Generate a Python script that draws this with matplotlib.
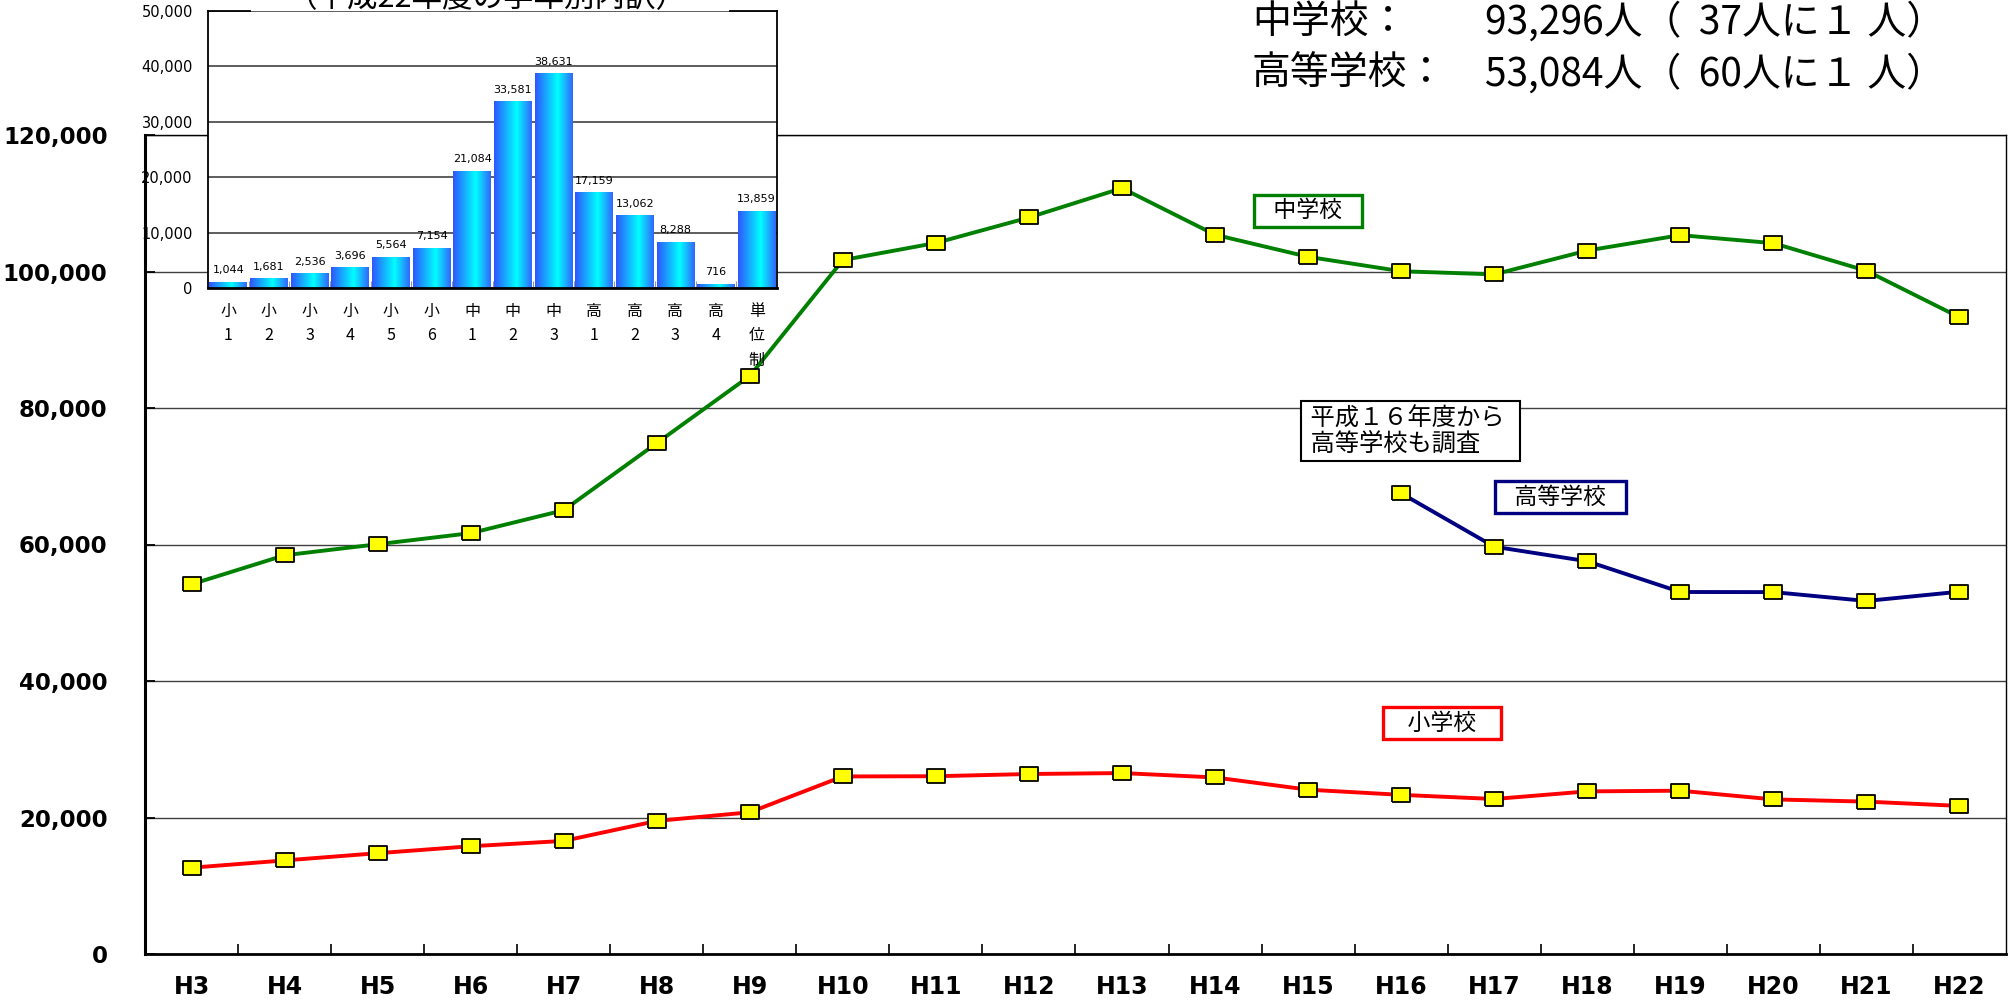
import matplotlib
matplotlib.use('Agg')
import matplotlib.pyplot as plt
import numpy as np
from matplotlib.colors import LinearSegmentedColormap
from matplotlib.lines import Line2D
from matplotlib.ticker import FuncFormatter

# --- data -------------------------------------------------------------------
years = ['H3', 'H4', 'H5', 'H6', 'H7', 'H8', 'H9', 'H10', 'H11', 'H12',
         'H13', 'H14', 'H15', 'H16', 'H17', 'H18', 'H19', 'H20', 'H21', 'H22']
elementary = [12645, 13710, 14769, 15786, 16569, 19498, 20765, 26017, 26047, 26373,
              26511, 25869, 24077, 23318, 22709, 23825, 23927, 22652, 22327, 21700]
junior_high = [54172, 58421, 60039, 61663, 65022, 74853, 84701, 101675, 104180, 107913,
               112211, 105383, 102149, 100040, 99578, 103069, 105328, 104153, 100105, 93296]
high_school = [np.nan] * 13 + [67500, 59680, 57544, 53041, 53024, 51728, 53084]

grade_labels = ['小\n1', '小\n2', '小\n3', '小\n4', '小\n5', '小\n6', '中\n1', '中\n2',
                '中\n3', '高\n1', '高\n2', '高\n3', '高\n4', '単\n位\n制']
grade_counts = [1044, 1681, 2536, 3696, 5564, 7154, 21084, 33581, 38631,
                17159, 13062, 8288, 716, 13859]

CJK = ['Noto Sans CJK JP', 'DejaVu Sans']
NARROW = ['Liberation Sans Narrow', 'DejaVu Sans']
plt.rcParams['font.family'] = ['DejaVu Sans']

fig = plt.figure(figsize=(20.14, 10), dpi=100)

# --- main line chart ----------------------------------------------------------
ax = fig.add_axes([0.072, 0.046, 0.924, 0.819])
x = np.arange(len(years))
rect = [(-1.35, -1), (1.35, -1), (1.35, 1), (-1.35, 1), (-1.35, -1)]
series = [(junior_high, '#008000'), (elementary, '#ff0000'), (high_school, '#000080')]
for vals, color in series:
    ax.plot(x, vals, color=color, lw=2.8, marker=rect, markersize=13.5,
            markerfacecolor='#ffff00', markeredgecolor='black', markeredgewidth=1.3,
            zorder=3)

ax.set_xlim(-0.5, len(years) - 0.5)
ax.set_ylim(0, 120000)
ax.set_yticks(np.arange(0, 120001, 20000))
ax.yaxis.set_major_formatter(FuncFormatter(lambda v, p: f'{int(v):,}'))
ax.set_xticks(x)
ax.set_xticklabels(years)
ax.set_xticks(np.arange(0.5, len(years) - 1, 1), minor=True)
ax.tick_params(axis='x', which='major', length=0, pad=15, labelsize=17)
ax.tick_params(axis='x', which='minor', direction='in', length=7, width=1.2)
ax.tick_params(axis='y', direction='in', length=7, width=1.3, pad=27, labelsize=16.5)
for lab in ax.get_xticklabels() + ax.get_yticklabels():
    lab.set_fontweight('bold')
ax.grid(axis='y', color='#404040', lw=1.0)
ax.set_axisbelow(True)
ax.spines['left'].set_linewidth(2.2)
ax.spines['bottom'].set_linewidth(2.0)
ax.spines['top'].set_linewidth(1.0)
ax.spines['right'].set_linewidth(1.0)

# series labels
ax.text(12.0, 108900, '   中学校   ', family=CJK, fontsize=16.5, ha='center', va='center',
        bbox=dict(boxstyle='square,pad=0.2', fc='white', ec='#008000', lw=2.4), zorder=4)
ax.text(14.71, 66960, '   高等学校   ', family=CJK, fontsize=16.5, ha='center', va='center',
        bbox=dict(boxstyle='square,pad=0.2', fc='white', ec='#000080', lw=2.4), zorder=4)
ax.text(13.44, 33850, '    小学校    ', family=CJK, fontsize=16.5, ha='center', va='center',
        bbox=dict(boxstyle='square,pad=0.2', fc='white', ec='#ff0000', lw=2.4), zorder=4)
ax.text(13.1, 76630, ' 平成１６年度から  \n 高等学校も調査', family=CJK, fontsize=17.5,
        ha='center', va='center', multialignment='left', linespacing=0.95,
        bbox=dict(boxstyle='square,pad=0.18', fc='white', ec='black', lw=1.5), zorder=4)

# --- inset bar chart ------------------------------------------------------------
axi = fig.add_axes([0.1033, 0.712, 0.2825, 0.277], zorder=5)
axi.set_facecolor('white')
cmap = LinearSegmentedColormap.from_list('bar', [(0, '#2f55ff'), (0.6, '#00ffff'), (1, '#3366ff')])
grad = np.linspace(0, 1, 128).reshape(1, -1)
bw = 0.93
for i, v in enumerate(grade_counts):
    axi.imshow(grad, cmap=cmap, extent=[i - bw / 2, i + bw / 2, 0, v],
               aspect='auto', zorder=2, interpolation='bilinear')
    axi.annotate(f'{v:,}', (i, v), xytext=(0, 5), textcoords='offset points',
                 ha='center', va='bottom', fontsize=8, family=NARROW)
axi.set_xlim(-0.5, len(grade_counts) - 0.5)
axi.set_ylim(0, 50000)
axi.set_yticks(np.arange(0, 50001, 10000))
axi.yaxis.set_major_formatter(FuncFormatter(lambda v, p: f'{int(v):,}'))
axi.set_xticks(np.arange(len(grade_counts)))
axi.set_xticklabels(grade_labels, family=CJK, fontsize=11.5, linespacing=1.55, va='top')
axi.set_xticks(np.arange(0.5, len(grade_counts) - 1, 1), minor=True)
axi.tick_params(axis='x', which='major', length=0, pad=11)
axi.tick_params(axis='x', which='minor', direction='in', length=5, color='#808080')
axi.tick_params(axis='y', length=0, pad=11, labelsize=10.5)
for lab in axi.get_yticklabels():
    lab.set_family(NARROW)
axi.grid(axis='y', color='#505050', lw=1.3, zorder=1)
axi.set_axisbelow(True)
axi.spines['top'].set_visible(False)
axi.spines['left'].set_linewidth(1.3)
axi.spines['right'].set_linewidth(1.3)
axi.spines['bottom'].set_linewidth(2.0)
for x0, x1 in [(0, 0.074), (0.917, 1)]:
    axi.add_line(Line2D([x0, x1], [1, 1], transform=axi.transAxes, color='black',
                        lw=1.3, clip_on=False))

# inset title (cut off by the top edge of the picture, as in the source)
fig.text(0.2418, 0.993, '（平成22年度の学年別内訳）', family=CJK, fontsize=22,
         ha='center', va='baseline')

# --- summary at the top right ---------------------------------------------------
fig.text(1252 / 2014, 1 - 22 / 1000, '中学校：', family=CJK, fontsize=28, va='center')
fig.text(1485 / 2014, 1 - 22 / 1000, '93,296人（  37人に１ 人）', family=CJK, fontsize=28, va='center')
fig.text(1252 / 2014, 1 - 74 / 1000, '高等学校：', family=CJK, fontsize=28, va='center')
fig.text(1485 / 2014, 1 - 74 / 1000, '53,084人（  60人に１ 人）', family=CJK, fontsize=28, va='center')

fig.savefig('out.png', dpi=100, facecolor='white')
